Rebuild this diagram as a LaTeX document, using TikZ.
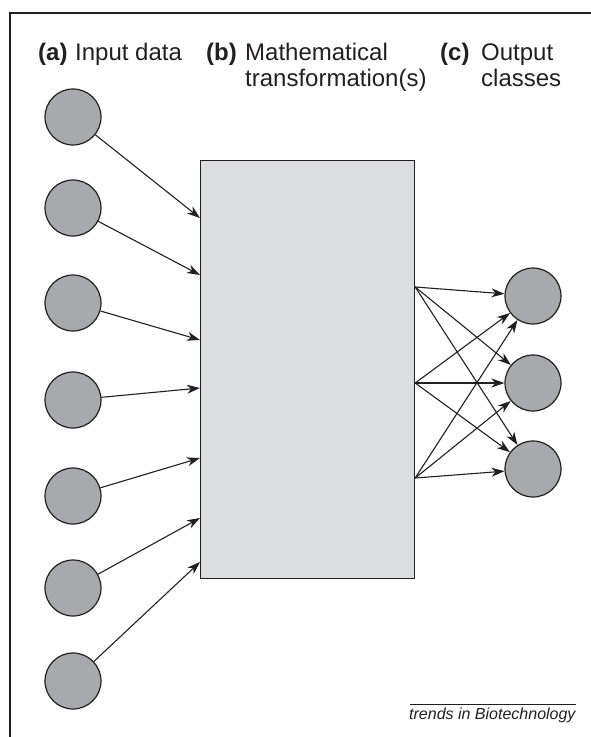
\documentclass[tikz,border=0pt]{standalone}
\usepackage{fontspec}
\setmainfont{Liberation Sans}
\usetikzlibrary{arrows.meta,calc}

\definecolor{ink}{RGB}{35,31,32}
\definecolor{ballgray}{RGB}{167,169,172}
\definecolor{boxgray}{RGB}{220,221,222}

\tikzset{
  ball/.style={circle, draw=ink, fill=ballgray, line width=1.2pt,
               minimum size=56pt, inner sep=0pt},
  linkarrow/.style={draw=ink, line width=1.1pt,
               -{Stealth[length=13pt, width=9pt, inset=4pt]}},
  headtext/.style={anchor=base west, inner sep=0pt, text=ink,
               font=\fontsize{24}{26}\selectfont},
  captext/.style={anchor=base west, inner sep=0pt, text=ink,
               font=\fontsize{16}{18}\selectfont\itshape},
}

\begin{document}
\begin{tikzpicture}[x=1pt, y=-1pt]
  \useasboundingbox (0,0) rectangle (591,737);

  % open frame: top and left rules
  \coordinate (ftr) at (591,13);
  \coordinate (ftl) at (10,13);
  \coordinate (fbl) at (10,737);
  \draw[ink, line width=1.2pt] (ftr) -- (ftl) -- (fbl);

  % column headings
  \node[headtext] (ha) at (38,60) {\textbf{(a)}};
  \node[headtext] (hat) at (75,60) {Input data};
  \node[headtext] (hb) at (206,60) {\textbf{(b)}};
  \node[headtext] (hbt1) at (245,60) {Mathematical};
  \node[headtext] (hbt2) at (245,86) {transformation(s)};
  \node[headtext] (hc) at (440,60) {\textbf{(c)}};
  \node[headtext] (hct1) at (481,60) {Output};
  \node[headtext] (hct2) at (481,86) {classes};

  % transformation block
  \node[draw=ink, fill=boxgray, line width=1.2pt, anchor=north west,
        minimum width=214pt, minimum height=418pt, inner sep=0pt]
        (T) at (200,160) {};

  % input data
  \node[ball] (i1) at (73,117) {};
  \node[ball] (i2) at (73,208) {};
  \node[ball] (i3) at (73,303) {};
  \node[ball] (i4) at (73,400) {};
  \node[ball] (i5) at (73,496) {};
  \node[ball] (i6) at (73,588) {};
  \node[ball] (i7) at (73,681) {};

  % output classes
  \node[ball] (o1) at (533,296) {};
  \node[ball] (o2) at (533,383) {};
  \node[ball] (o3) at (533,469) {};

  % entry points on the left side of the block
  \path (T.north west) ++(0,58)  coordinate (e1);
  \path (T.north west) ++(0,115) coordinate (e2);
  \path (T.north west) ++(0,180) coordinate (e3);
  \path (T.north west) ++(0,228) coordinate (e4);
  \path (T.north west) ++(0,298) coordinate (e5);
  \path (T.north west) ++(0,358) coordinate (e6);
  \path (T.north west) ++(0,402) coordinate (e7);

  % exit points on the right side of the block
  \path (T.north east) ++(0,127) coordinate (x1);
  \path (T.north east) ++(0,223) coordinate (x2);
  \path (T.north east) ++(0,318) coordinate (x3);

  \foreach \k in {1,...,7} {
    \draw[linkarrow] (i\k) -- (e\k);
  }
  \foreach \s in {1,2,3} {
    \foreach \t in {1,2,3} {
      \draw[linkarrow] (x\s) -- (o\t);
    }
  }

  % source line
  \coordinate (cl) at (410,704);
  \coordinate (cr) at (576,704);
  \draw[ink, line width=0.8pt] (cl) -- (cr);
  \node[captext] (cap) at (409,719) {trends in Biotechnology};
\end{tikzpicture}
\end{document}
